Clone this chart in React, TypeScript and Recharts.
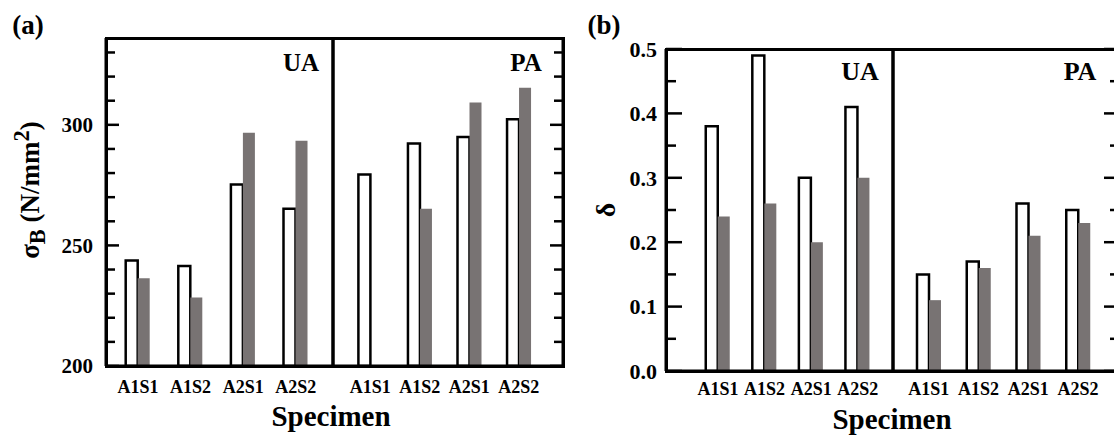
import React from 'react';
import { BarChart, Bar, XAxis, YAxis } from 'recharts';

const FONT = '"Liberation Serif", "Times New Roman", Times, serif';
const GREY = '#787373';

const specimens = ['A1S1', 'A1S2', 'A2S1', 'A2S2'];

// (a) tensile strength, N/mm2
const strengthUAOpen = [243.7, 241.5, 275.3, 265.2];
const strengthUAFilled = [236.4, 228.4, 296.7, 293.4];
const strengthPAOpen = [279.4, 292.3, 295.0, 302.3];
const strengthPAFilled = [null, 265.2, 309.3, 315.4];

// (b) elongation
const elongUAOpen = [0.38, 0.49, 0.3, 0.41];
const elongUAFilled = [0.24, 0.26, 0.2, 0.3];
const elongPAOpen = [0.15, 0.17, 0.26, 0.25];
const elongPAFilled = [0.11, 0.16, 0.21, 0.23];

const strengthTicks = [200, 210, 220, 230, 240, 250, 260, 270, 280, 290, 300, 310, 320, 330];
const strengthLabels = [200, 250, 300];
const elongTicks = [0, 0.05, 0.1, 0.15, 0.2, 0.25, 0.3, 0.35, 0.4, 0.45, 0.5];
const elongLabels = [0, 0.1, 0.2, 0.3, 0.4, 0.5];

const rows = (open: (number | null)[], filled: (number | null)[]) =>
  specimens.map((name, i) => ({ name, open: open[i], filled: filled[i] }));

const frame = { stroke: '#000', strokeWidth: 3 };

const makeTick =
  (side: 'left' | 'right', labels: number[], fmt: (v: number) => string, fontSize: number, gap: number, majorLen: number, minorLen: number) =>
  (props: any) => {
    const { x, y, payload } = props;
    const v = payload.value;
    const major = labels.some((l) => Math.abs(l - v) < 1e-9);
    const dir = side === 'left' ? 1 : -1;
    const len = major ? majorLen : minorLen;
    return (
      <g>
        <line x1={x} y1={y} x2={x + dir * len} y2={y} stroke="#000" strokeWidth={2.5} />
        {side === 'left' && major && (
          <text x={x - gap} y={y} dy="0.35em" textAnchor="end" fontSize={fontSize} fontWeight={700} fontFamily={FONT} fill="#000">
            {fmt(v)}
          </text>
        )}
      </g>
    );
  };

interface HalfProps {
  data: any[];
  domain: [number, number];
  ticks: number[];
  labels: number[];
  fmt: (v: number) => string;
  side: 'left' | 'right';
  x0: number;
  x1: number;
  top: number;
  bottom: number;
  padL: number;
  padR: number;
  labelGap: number;
  labelFont: number;
  xTickMargin: number;
  majorLen: number;
  minorLen: number;
}

const Half = (p: HalfProps) => {
  const outer = 10;
  const isLeft = p.side === 'left';
  const divLeft = isLeft ? 0 : p.x0 - outer;
  const width = p.x1 + outer - divLeft;
  const mainW = isLeft ? p.x0 : outer;
  return (
    <div style={{ position: 'absolute', left: divLeft, top: 0 }}>
      <BarChart
        width={width}
        height={437}
        data={p.data}
        margin={{ top: p.top, right: 0, bottom: 0, left: 0 }}
        barGap={0}
        barSize={12}
      >
        <XAxis
          dataKey="name"
          height={437 - p.bottom}
          padding={{ left: p.padL, right: p.padR }}
          interval={0}
          tickLine={false}
          tickSize={0}
          tickMargin={p.xTickMargin}
          axisLine={frame}
          tick={{ fill: '#000', fontSize: 18, fontWeight: 700, fontFamily: FONT }}
        />
        <YAxis
          orientation={p.side}
          width={mainW}
          domain={p.domain}
          allowDataOverflow
          ticks={p.ticks}
          interval={0}
          tickLine={false}
          tickSize={0}
          tickMargin={0}
          axisLine={frame}
          tick={makeTick(p.side, p.labels, p.fmt, p.labelFont, p.labelGap, p.majorLen, p.minorLen)}
        />
        <YAxis
          yAxisId="edge"
          orientation={isLeft ? 'right' : 'left'}
          width={outer}
          domain={p.domain}
          tick={false}
          tickLine={false}
          axisLine={frame}
        />
        <Bar dataKey="open" fill="#fff" stroke="#000" strokeWidth={2.5} isAnimationActive={false} />
        <Bar dataKey="filled" fill={GREY} isAnimationActive={false} />
      </BarChart>
    </div>
  );
};

// outer box of a panel (the plot frame)
const Frame = ({ x0, x1, top, bottom }: { x0: number; x1: number; top: number; bottom: number }) => (
  <div
    style={{
      position: 'absolute',
      left: x0 - 1.5,
      top: top - 1.5,
      width: x1 - x0 + 3,
      height: bottom - top + 3,
      border: '3px solid #000',
      boxSizing: 'border-box',
      pointerEvents: 'none',
    }}
  />
);

const Txt = ({ x, y, size, rotate, children }: { x: number; y: number; size: number; rotate?: boolean; children: React.ReactNode }) => (
  <div
    style={{
      position: 'absolute',
      left: x,
      top: y,
      transform: `translate(-50%, -50%)${rotate ? ' rotate(-90deg)' : ''}`,
      fontSize: size,
      fontWeight: 700,
      fontFamily: FONT,
      lineHeight: 1,
      whiteSpace: 'nowrap',
      color: '#000',
    }}
  >
    {children}
  </div>
);

const fmtInt = (v: number) => String(v);
const fmtOne = (v: number) => v.toFixed(1);

export default function App() {
  return (
    <div style={{ position: 'absolute', left: 0, top: 0, width: 1114, height: 437, overflow: 'hidden', background: '#fff' }}>
      {/* panel (a) */}
      <Half
        data={rows(strengthUAOpen, strengthUAFilled)}
        domain={[200, 336]}
        ticks={strengthTicks}
        labels={strengthLabels}
        fmt={fmtInt}
        side="left"
        x0={106}
        x1={333}
        top={38}
        bottom={366}
        padL={5.7}
        padR={10.9}
        labelGap={13}
        labelFont={21}
        xTickMargin={14}
        majorLen={13}
        minorLen={9}
      />
      <Half
        data={rows(strengthPAOpen, strengthPAFilled)}
        domain={[200, 336]}
        ticks={strengthTicks}
        labels={strengthLabels}
        fmt={fmtInt}
        side="right"
        x0={333}
        x1={563}
        top={38}
        bottom={366}
        padL={12.4}
        padR={19.4}
        labelGap={13}
        labelFont={21}
        xTickMargin={14}
        majorLen={13}
        minorLen={9}
      />
      <Frame x0={106} x1={563} top={38} bottom={366} />
      {/* panel (b) */}
      <Half
        data={rows(elongUAOpen, elongUAFilled)}
        domain={[0, 0.5]}
        ticks={elongTicks}
        labels={elongLabels}
        fmt={fmtOne}
        side="left"
        x0={666}
        x1={893}
        top={49}
        bottom={371}
        padL={28.75}
        padR={12}
        labelGap={9}
        labelFont={22}
        xTickMargin={11}
        majorLen={16}
        minorLen={10}
      />
      <Half
        data={rows(elongPAOpen, elongPAFilled)}
        domain={[0, 0.5]}
        ticks={elongTicks}
        labels={elongLabels}
        fmt={fmtOne}
        side="right"
        x0={893}
        x1={1120}
        top={49}
        bottom={371}
        padL={11}
        padR={17}
        labelGap={9}
        labelFont={22}
        xTickMargin={11}
        majorLen={16}
        minorLen={10}
      />
      <Frame x0={666} x1={1120} top={49} bottom={371} />

      <Txt x={28} y={25} size={27}>(a)</Txt>
      <Txt x={604} y={25} size={27}>(b)</Txt>
      <Txt x={301} y={62} size={25}>UA</Txt>
      <Txt x={526} y={62} size={25}>PA</Txt>
      <Txt x={860} y={72} size={26}>UA</Txt>
      <Txt x={1080} y={72} size={26}>PA</Txt>
      <Txt x={30} y={190} size={27} rotate>
        σ<sub>B</sub> (N/mm<sup>2</sup>)
      </Txt>
      <Txt x={606} y={210} size={28} rotate>δ</Txt>
      <Txt x={331} y={416} size={29}>Specimen</Txt>
      <Txt x={892} y={419} size={29}>Specimen</Txt>
    </div>
  );
}
